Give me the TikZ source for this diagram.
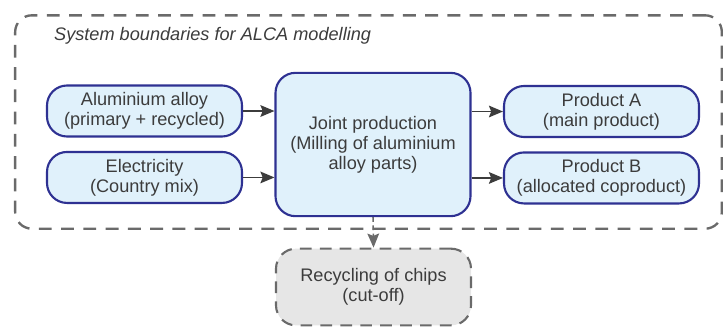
\documentclass[tikz,border=0pt]{standalone}
\usepackage{fontspec}
\setmainfont{Liberation Sans}
\usetikzlibrary{arrows.meta, positioning, calc}
\definecolor{boxblue}{HTML}{2E3192}
\definecolor{boxfill}{HTML}{E0F1FB}
\definecolor{dashgray}{HTML}{6A6A6A}
\definecolor{cutfill}{HTML}{E6E6E6}
\definecolor{txtgray}{HTML}{3C3C3C}

\begin{document}
\begin{tikzpicture}[
  flow/.style={rectangle, rounded corners=0.6cm, draw=boxblue, fill=boxfill, line width=1.8pt, text=txtgray, align=center, minimum width=5.85cm, minimum height=1.53cm, font=\fontsize{15.5}{17}\selectfont},
  process/.style={flow, rounded corners=0.6cm, minimum height=4.3cm},
  cutoff/.style={flow, draw=dashgray, fill=cutfill, dash pattern=on 10pt off 7pt, minimum height=2.3cm},
  boundary/.style={rectangle, rounded corners=0.5cm, draw=dashgray, line width=2pt, dash pattern=on 11pt off 8pt, minimum width=21.2cm, minimum height=6.4cm},
  arrow/.style={-{Stealth[length=12pt, width=10pt, inset=2pt]}, line width=1.3pt, color=txtgray},
  dasharrow/.style={arrow, color=dashgray, dash pattern=on 4pt off 3pt}
]
\useasboundingbox (0,0) rectangle (21.69,-9.81);
% Systemgrenze
\node[boundary] (sysbound) at (11.055,-3.66) {};
\node[anchor=west, text=txtgray, font=\fontsize{15.5}{17}\selectfont\itshape] (title) at (1.5,-1.08) {System boundaries for ALCA modelling};

% Eingaenge
\node[flow] (alloy) at (4.335,-3.33) {Aluminium alloy\\(primary + recycled)};
\node[flow, below=0.4cm of alloy] (elec) {Electricity\\(Country mix)};
% Prozess
\node[process] (joint) at (11.19,-4.335) {Joint production\\(Milling of aluminium\\alloy parts)};
% Produkte
\node[flow] (proda) at (18.045,-3.345) {Product A\\(main product)};
\node[flow, below=0.4cm of proda] (prodb) {Product B\\(allocated coproduct)};
% Recycling
\node[cutoff] (recyc) at (11.205,-8.61) {Recycling of chips\\(cut-off)};

% Verbindungen
\draw[arrow] (alloy.east) -- (alloy.east -| joint.west);
\draw[arrow] (elec.east) -- (elec.east -| joint.west);
\draw[arrow] (proda.west -| joint.east) -- (proda.west);
\draw[arrow] (prodb.west -| joint.east) -- (prodb.west);
\draw[dasharrow] (joint.south) -- (recyc.north);
\end{tikzpicture}
\end{document}
